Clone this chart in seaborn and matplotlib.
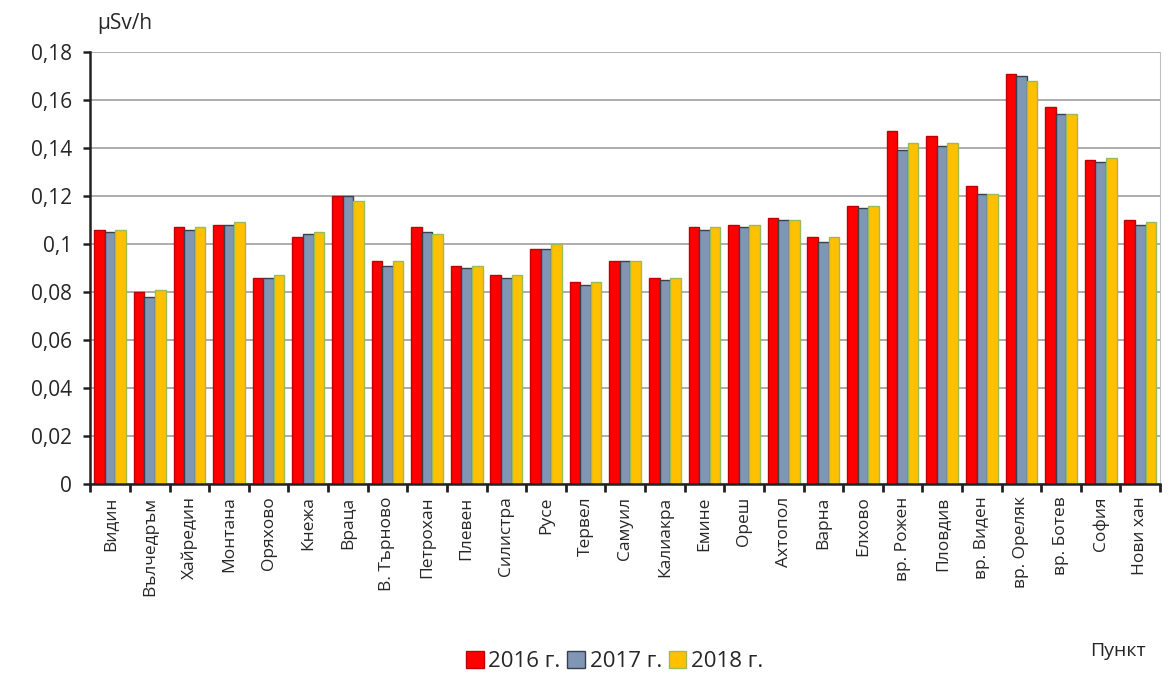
import matplotlib
matplotlib.use("Agg")
import matplotlib.pyplot as plt
import seaborn as sns
import pandas as pd
from matplotlib.patches import Patch

categories = ["Видин", "Вълчедръм", "Хайредин", "Монтана", "Оряхово", "Кнежа", "Враца",
              "В. Търново", "Петрохан", "Плевен", "Силистра", "Русе", "Тервел", "Самуил",
              "Калиакра", "Емине", "Ореш", "Ахтопол", "Варна", "Елхово", "вр. Рожен",
              "Пловдив", "вр. Виден", "вр. Ореляк", "вр. Ботев", "София", "Нови хан"]
v2016 = [0.106, 0.080, 0.107, 0.108, 0.086, 0.103, 0.120, 0.093, 0.107, 0.091, 0.087, 0.098,
         0.084, 0.093, 0.086, 0.107, 0.108, 0.111, 0.103, 0.116, 0.147, 0.145, 0.124, 0.171,
         0.157, 0.135, 0.110]
v2017 = [0.105, 0.078, 0.106, 0.108, 0.086, 0.104, 0.120, 0.091, 0.105, 0.090, 0.086, 0.098,
         0.083, 0.093, 0.085, 0.106, 0.107, 0.110, 0.101, 0.115, 0.139, 0.141, 0.121, 0.170,
         0.154, 0.134, 0.108]
v2018 = [0.106, 0.081, 0.107, 0.109, 0.087, 0.105, 0.118, 0.093, 0.104, 0.091, 0.087, 0.100,
         0.084, 0.093, 0.086, 0.107, 0.108, 0.110, 0.103, 0.116, 0.142, 0.142, 0.121, 0.168,
         0.154, 0.136, 0.109]
series = ["2016 г.", "2017 г.", "2018 г."]
yticks = [0, 0.02, 0.04, 0.06, 0.08, 0.10, 0.12, 0.14, 0.16, 0.18]
ytick_labels = ["0", "0,02", "0,04", "0,06", "0,08", "0,1", "0,12", "0,14", "0,16", "0,18"]

colors = ["#FF0000", "#7F97B5", "#FFC000"]
edges = ["#C00000", "#3A3F4A", "#9BBB59"]

df = pd.DataFrame({
    "Пункт": categories * 3,
    "value": v2016 + v2017 + v2018,
    "year": [series[0]] * len(categories) + [series[1]] * len(categories) + [series[2]] * len(categories),
})

sns.set_style("white")
plt.rcParams["font.family"] = ["Open Sans", "DejaVu Sans"]

fig = plt.figure(figsize=(11.73, 6.75), dpi=100)
ax = fig.add_axes([0.077, 0.283, 0.912, 0.64])

sns.barplot(data=df, x="Пункт", y="value", hue="year", palette=colors, ax=ax,
            width=0.8, legend=False, errorbar=None, saturation=1)

n = len(categories)
for i, patch in enumerate(ax.patches[:3 * n]):
    s = i // n
    patch.set_edgecolor(edges[s])
    patch.set_linewidth(1.0)

ax.set_ylim(0, 0.18)
ax.set_xlim(-0.5, n - 0.5)
ax.set_yticks(yticks)
ax.set_yticklabels(ytick_labels, fontsize=15)
ax.set_xticks(range(n))
ax.set_xticklabels(categories, rotation=90, fontsize=12.5)
ax.set_xlabel("")
ax.set_ylabel("")
ax.yaxis.grid(True, color="#A0A0A0", linewidth=1.2)
ax.set_axisbelow(True)

ax.spines["top"].set_visible(False)
ax.spines["right"].set_color("#BFBFBF")
ax.spines["left"].set_color("#222222")
ax.spines["left"].set_linewidth(1.8)
ax.spines["bottom"].set_color("#222222")
ax.spines["bottom"].set_linewidth(1.8)
ax.tick_params(axis="y", which="both", direction="out", length=5, width=1.8,
               color="#222222", left=True, pad=8)
ax.set_xticks([i + 0.5 for i in range(-1, n)], minor=True)
ax.tick_params(axis="x", which="major", length=0, pad=9)
ax.tick_params(axis="x", which="minor", direction="out", length=6, width=2,
               color="#222222", bottom=True)

fig.text(0.083, 0.965, "µSv/h", fontsize=15, ha="left", va="center")
fig.text(0.977, 0.036, "Пункт", fontsize=14, ha="right", va="center")

handles = [Patch(facecolor=colors[i], edgecolor=edges[i], label=series[i]) for i in range(3)]
fig.legend(handles=handles, loc="center", bbox_to_anchor=(0.524, 0.02), ncol=3,
           frameon=False, fontsize=16, handlelength=0.8, handleheight=0.8,
           handletextpad=0.2, columnspacing=0.3)

fig.savefig("out.png", dpi=100)
